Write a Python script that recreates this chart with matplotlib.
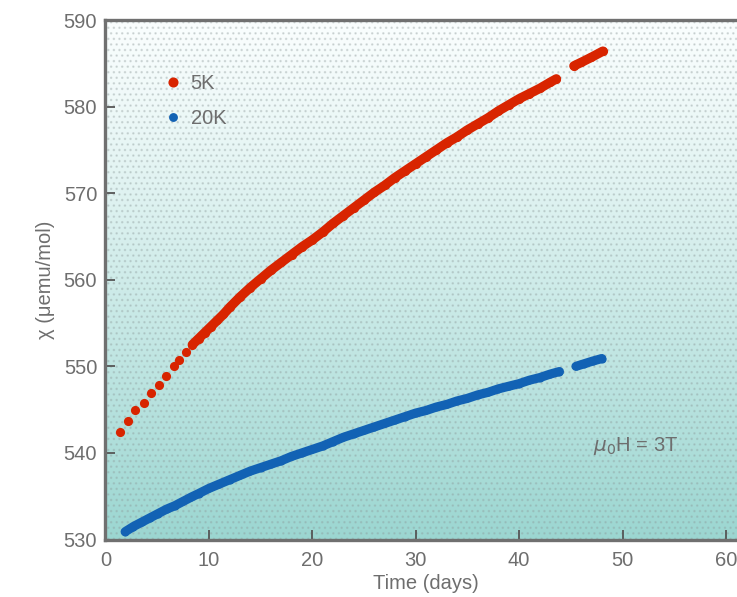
import numpy as np
import matplotlib.pyplot as plt
from matplotlib.patches import Rectangle

# 5K series (red)
t_5k = [1.45, 2.2, 2.9, 3.7, 4.4, 5.15, 5.85, 6.6, 7.15, 7.8,
        8.4, 9.0, 9.6, 10.2, 10.8, 11.4, 12, 13, 14, 15, 16, 17, 18, 19, 20,
        21, 22, 23, 24, 25, 26, 27, 28, 29, 30,
        31, 32, 33, 34, 35, 36, 37, 38, 39, 40,
        41, 42, 43, 43.6,
        45.3, 46, 47, 48.1]
chi_5k = [542.4, 543.7, 545.0, 545.8, 546.9, 547.9, 548.9, 550.0, 550.7, 551.7,
          552.5, 553.2, 553.9, 554.6, 555.3, 556.0, 556.8, 558.0, 559.1, 560.1, 561.1, 562.0, 562.9, 563.8, 564.6,
          565.5, 566.5, 567.4, 568.3, 569.2, 570.1, 570.9, 571.8, 572.6, 573.4,
          574.2, 575.0, 575.8, 576.5, 577.3, 578.0, 578.7, 579.5, 580.2, 580.9,
          581.5, 582.1, 582.8, 583.2,
          584.7, 585.1, 585.7, 586.4]

# 20K series (blue)
t_20k = [1.9, 2.7, 3.5, 4.3, 5.1, 5.9, 6.7, 7.5, 8.3, 9,
         10, 11, 12, 13, 14, 15, 16, 17, 18, 19, 20,
         21, 22, 23, 24, 25, 26, 27, 28, 29, 30,
         31, 32, 33, 34, 35, 36, 37, 38, 39, 40,
         41, 42, 43, 43.9,
         45.5, 46.3, 47.1, 48]
chi_20k = [530.9, 531.5, 532.0, 532.5, 533.0, 533.5, 533.9, 534.4, 534.9, 535.3,
           535.9, 536.4, 536.9, 537.4, 537.9, 538.3, 538.7, 539.1, 539.6, 540.0, 540.4,
           540.8, 541.3, 541.8, 542.2, 542.6, 543.0, 543.4, 543.8, 544.2, 544.6,
           544.9, 545.3, 545.6, 546.0, 546.3, 546.7, 547.0, 547.4, 547.7, 548.0,
           548.4, 548.7, 549.1, 549.4,
           550.0, 550.3, 550.6, 550.9]

x_ticks = [0, 10, 20, 30, 40, 50, 60]
y_ticks = [530, 540, 550, 560, 570, 580, 590]

TXT = '#6e6e6e'
RED = '#d82400'
BLUE = '#1262b4'
FONT = 'Liberation Sans'


def draw_series(ax, t, v, color, ms, lw, label, dense_from):
    t = np.array(t)
    v = np.array(v)
    ax.plot(t, v, 'o', color=color, ms=ms, mew=0, label=label, zorder=3)
    # dense part looks like a solid band, split at the data gap
    m = t >= dense_from
    td, vd = t[m], v[m]
    breaks = np.where(np.diff(td) > 1.2)[0] + 1
    for seg_t, seg_v in zip(np.split(td, breaks), np.split(vd, breaks)):
        ax.plot(seg_t, seg_v, '-', color=color, lw=lw,
                solid_capstyle='round', zorder=3)


plt.rcParams['hatch.linewidth'] = 1.0

fig = plt.figure(figsize=(7.37, 5.97), dpi=100)
ax = fig.add_axes([105.5 / 737, 57.5 / 597, 62 * 10.34 / 737, 519.5 / 597])
ax.set_xlim(0, 62)
ax.set_ylim(530, 590)

# background gradient white (top) -> teal (bottom) with a faint halftone
grad = np.linspace(0, 1, 256).reshape(-1, 1)
top = np.array([0.98, 0.995, 0.995])
bot = np.array([0.61, 0.84, 0.82])
img = top + (bot - top) * grad[..., None] ** 1.15
ax.imshow(img, extent=[0, 62, 530, 590], origin='upper', aspect='auto', zorder=0)
ax.add_patch(Rectangle((0, 530), 62, 60, facecolor='none', lw=0, hatch='...',
                       edgecolor=(0.55, 0.6, 0.6, 0.3), zorder=1))

draw_series(ax, t_5k, chi_5k, RED, 6.6, 6.8, '5K', 8.4)
draw_series(ax, t_20k, chi_20k, BLUE, 5.8, 6.6, '20K', 0)

ax.legend(loc='upper left', bbox_to_anchor=(0.084, 0.911), borderaxespad=0,
          frameon=False, handlelength=0.6, handletextpad=0.55, labelspacing=0.8,
          markerscale=1.1, prop={'family': FONT, 'size': 14.5}, labelcolor=TXT)

ax.text(47.1, 540.8, r'$\mu_0$H = 3T', color=TXT, fontsize=14.5,
        family=FONT, ha='left', va='center')

ax.set_xticks(x_ticks)
ax.set_yticks(y_ticks)
ax.tick_params(direction='in', length=7, width=1.3, color='#555555',
               labelcolor=TXT, labelsize=14.5)
ax.tick_params(axis='x', pad=8)
ax.tick_params(axis='y', pad=6)
for lab in ax.get_xticklabels() + ax.get_yticklabels():
    lab.set_family(FONT)

for s in ['top', 'left', 'bottom']:
    ax.spines[s].set_color('#707070')
    ax.spines[s].set_linewidth(2.4)
ax.spines['right'].set_visible(False)

ax.set_xlabel('Time (days)', color=TXT, fontsize=14.5, family=FONT, labelpad=3)
ax.set_ylabel('χ (μemu/mol)', color=TXT, fontsize=14.5, family=FONT, labelpad=6)

fig.savefig('out.png', dpi=100)
